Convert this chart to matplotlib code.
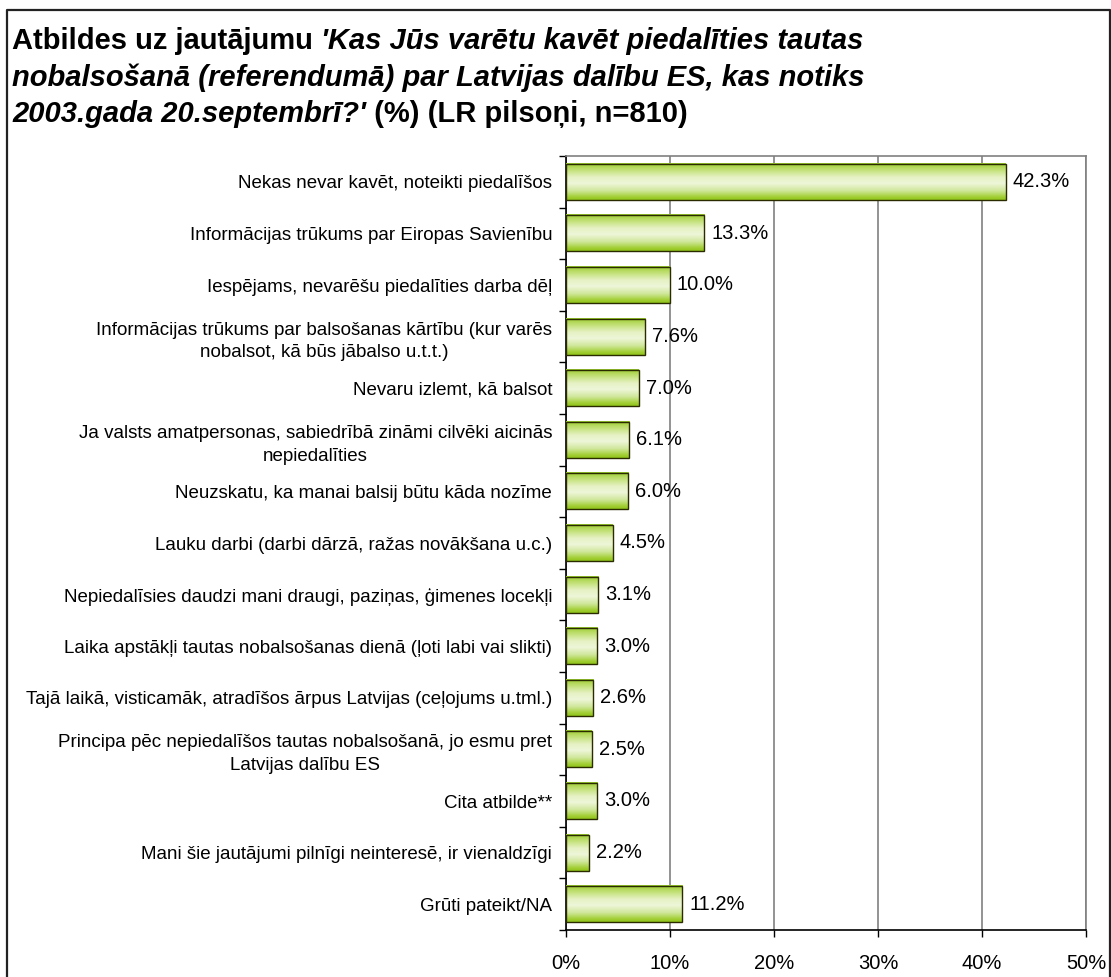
import matplotlib
matplotlib.use("Agg")
import matplotlib.pyplot as plt
import numpy as np
from matplotlib.colors import LinearSegmentedColormap
from matplotlib.lines import Line2D

plt.rcParams['font.family'] = ['Liberation Sans', 'DejaVu Sans']

categories = [
    "Nekas nevar kavēt, noteikti piedalīšos",
    "Informācijas trūkums par Eiropas Savienību",
    "Iespējams, nevarēšu piedalīties darba dēļ",
    "Informācijas trūkums par balsošanas kārtību (kur varēs\nnobalsot, kā būs jābalso u.t.t.)",
    "Nevaru izlemt, kā balsot",
    "Ja valsts amatpersonas, sabiedrībā zināmi cilvēki aicinās\nnepiedalīties",
    "Neuzskatu, ka manai balsij būtu kāda nozīme",
    "Lauku darbi (darbi dārzā, ražas novākšana u.c.)",
    "Nepiedalīsies daudzi mani draugi, paziņas, ģimenes locekļi",
    "Laika apstākļi tautas nobalsošanas dienā (ļoti labi vai slikti)",
    "Tajā laikā, visticamāk, atradīšos ārpus Latvijas (ceļojums u.tml.)",
    "Principa pēc nepiedalīšos tautas nobalsošanā, jo esmu pret\nLatvijas dalību ES",
    "Cita atbilde**",
    "Mani šie jautājumi pilnīgi neinteresē, ir vienaldzīgi",
    "Grūti pateikt/NA",
]
values = [42.3, 13.3, 10.0, 7.6, 7.0, 6.1, 6.0, 4.5, 3.1, 3.0, 2.6, 2.5, 3.0, 2.2, 11.2]
xticks = [0, 10, 20, 30, 40, 50]
xticklabels = ["0%", "10%", "20%", "30%", "40%", "50%"]

W, H = 1111, 977
fig = plt.figure(figsize=(W / 100, H / 100), dpi=100)
ax = fig.add_axes([566 / W, 1 - 930 / H, (1086 - 566) / W, (930 - 156) / H])

y = np.arange(len(categories))
bars = ax.barh(y, values, height=0.7, facecolor='none', edgecolor='#2b2b00',
               linewidth=1.0, zorder=4)

cmap = LinearSegmentedColormap.from_list(
    'grn', [(0.0, '#9acb2a'), (0.12, '#b6da5e'), (0.38, '#e6f2c4'),
            (0.55, '#eef6d8'), (0.75, '#cfe79a'), (0.92, '#a2cf33'), (1.0, '#8fc31a')])
grad = np.linspace(0, 1, 256).reshape(-1, 1)
for b in bars:
    x0, y0, w, h = b.get_x(), b.get_y(), b.get_width(), b.get_height()
    ax.imshow(grad, cmap=cmap, aspect='auto', extent=(x0, x0 + w, y0 + h, y0),
              zorder=3, interpolation='bilinear')

for v, yy in zip(values, y):
    ax.annotate(f"{v:.1f}%", xy=(v, yy), xytext=(5, 0), textcoords='offset points',
                va='center', ha='left', fontsize=14.5, zorder=5)

ax.set_xlim(0, 50)
ax.set_ylim(len(categories) - 0.5, -0.5)
ax.set_xticks(xticks)
ax.set_xticklabels(xticklabels, fontsize=14.5)
ax.set_yticks(y)
ax.set_yticklabels(categories, fontsize=13.5, multialignment='center', linespacing=1.45)
ax.set_yticks(np.arange(len(categories) + 1) - 0.5, minor=True)
ax.tick_params(axis='y', which='major', length=0, pad=10)
ax.tick_params(axis='y', which='minor', length=5, width=1, color='black', direction='out')
ax.tick_params(axis='x', which='major', length=5, width=1, color='black', direction='out', pad=12)

ax.grid(axis='x', color='#808080', linewidth=1.2, zorder=1)
ax.set_axisbelow(True)
for s in ['left', 'bottom']:
    ax.spines[s].set_color('black')
    ax.spines[s].set_linewidth(1.2)
for s in ['top', 'right']:
    ax.spines[s].set_color('#808080')
    ax.spines[s].set_linewidth(1.2)

# Title with mixed bold / bold italic
tfs = 21
t1 = fig.text(12 / W, 1 - 49 / H, "Atbildes uz jautājumu ", fontsize=tfs, fontweight='bold',
              ha='left', va='baseline')
fig.canvas.draw()
r = fig.canvas.get_renderer()
bb = t1.get_window_extent(r)
fig.text(bb.x1 / W, 1 - 49 / H, "'Kas Jūs varētu kavēt piedalīties tautas", fontsize=tfs,
         fontweight='bold', fontstyle='italic', ha='left', va='baseline')
fig.text(12 / W, 1 - 86 / H, "nobalsošanā (referendumā) par Latvijas dalību ES, kas notiks",
         fontsize=tfs, fontweight='bold', fontstyle='italic', ha='left', va='baseline')
t3 = fig.text(12 / W, 1 - 122 / H, "2003.gada 20.septembrī?'", fontsize=tfs, fontweight='bold',
              fontstyle='italic', ha='left', va='baseline')
bb3 = t3.get_window_extent(r)
fig.text(bb3.x1 / W, 1 - 122 / H, " (%) (LR pilsoņi, n=810)", fontsize=tfs, fontweight='bold',
         ha='left', va='baseline')

# Figure border (left, top, right)
bx0, bx1, by0 = 7 / W, 1110 / W, 1 - 10 / H
fig.add_artist(Line2D([bx0, bx0, bx1, bx1], [-0.1, by0, by0, -0.1], transform=fig.transFigure,
                      color='#222222', linewidth=1.6))

fig.savefig("out.png", dpi=100)
